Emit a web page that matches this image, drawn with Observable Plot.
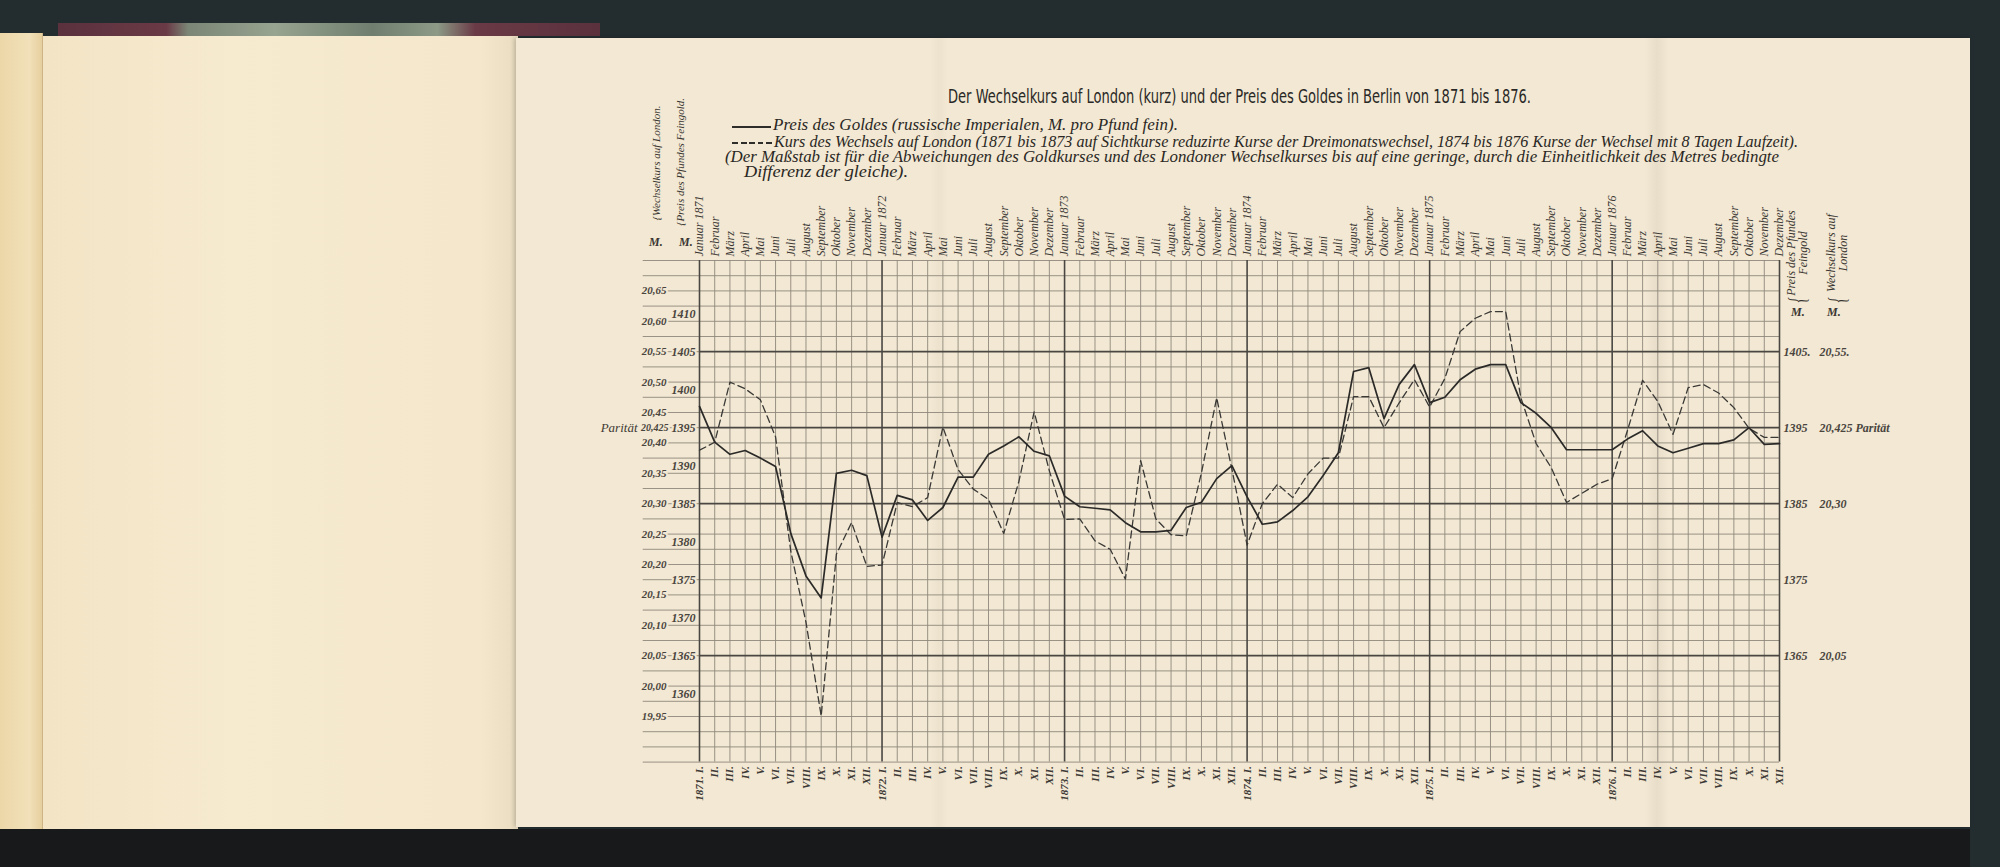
<!DOCTYPE html>
<html>
<head>
<meta charset="utf-8">
<script src="https://cdn.jsdelivr.net/npm/d3@7"></script>
<script src="https://cdn.jsdelivr.net/npm/@observablehq/plot@0.6"></script>
<style>
html,body{margin:0;padding:0;width:2000px;height:867px;overflow:hidden;background:#232c2f;}
#root{position:relative;width:2000px;height:867px;}
.abs{position:absolute;}
.serif{font-family:"Liberation Serif","DejaVu Serif",serif;font-style:italic;color:#3a3631;}
.leg{color:#2a2724;font-size:16px;line-height:18px;}
.rot{position:absolute;transform:translate(-50%,-50%) rotate(-90deg);white-space:nowrap;text-align:center;}
.fit{position:absolute;white-space:nowrap;transform-origin:left center;}
#chart{position:absolute;left:0;top:0;}
</style>
</head>
<body>
<div id="root">
  <!-- book / paper decoration -->
  <div class="abs" style="left:58px;top:23px;width:542px;height:13px;background:linear-gradient(90deg,#5a313d 0%,#6a3a46 20%,#7b8676 24%,#97a48f 40%,#6f7e6f 58%,#8c9a86 70%,#6a3a46 77%,#5a313d 100%);"></div>
  <div class="abs" style="left:0;top:33px;width:42px;height:797px;background:linear-gradient(90deg,#ecd7a8,#f1e0b9 70%,#e6cf9e);border-right:1px solid #cdb487;"></div>
  <div class="abs" style="left:43px;top:36px;width:475px;height:793px;background:linear-gradient(90deg,#f3e4c5 0%,#f6eacf 40%,#f4e7cb 92%,#e9dcc0 100%);"></div>
  <div class="abs" style="left:516px;top:38px;width:1454px;height:789px;background:#f2e8d3;box-shadow:-2px 0 4px rgba(0,0,0,0.18);"></div>
  <div class="abs" style="left:930px;top:38px;width:18px;height:789px;background:linear-gradient(90deg,rgba(0,0,0,0),rgba(90,70,40,0.035),rgba(0,0,0,0));"></div>
  <div class="abs" style="left:1645px;top:38px;width:24px;height:789px;background:linear-gradient(90deg,rgba(0,0,0,0),rgba(90,80,60,0.07),rgba(0,0,0,0));"></div>
  <div class="abs" style="left:0;top:829px;width:1970px;height:38px;background:#17191a;"></div>

  <div id="chart"></div>

  <!-- title and legend -->
  <div class="fit" id="title" data-w="583" style="left:948px;top:85px;font-family:'DejaVu Sans Condensed','DejaVu Sans',sans-serif;font-size:19px;line-height:22px;color:#2a2826;">Der Wechselkurs auf London (kurz) und der Preis des Goldes in Berlin von 1871 bis 1876.</div>

  <div class="abs" style="left:732px;top:126px;width:39px;height:1.6px;background:#2f2d2a;"></div>
  <div class="fit serif leg" data-w="405" style="left:773px;top:116px;">Preis des Goldes (russische Imperialen, M. pro Pfund fein).</div>

  <div class="abs" style="left:732px;top:142px;width:41px;height:1.5px;background:repeating-linear-gradient(90deg,#2f2d2a 0 6px,rgba(0,0,0,0) 6px 8.5px);"></div>
  <div class="fit serif leg" data-w="1024" style="left:774px;top:133px;">Kurs des Wechsels auf London (1871 bis 1873 auf Sichtkurse reduzirte Kurse der Dreimonatswechsel, 1874 bis 1876 Kurse der Wechsel mit 8 Tagen Laufzeit).</div>

  <div class="fit serif leg" data-w="1054" style="left:725px;top:148px;">(Der Maßstab ist für die Abweichungen des Goldkurses und des Londoner Wechselkurses bis auf eine geringe, durch die Einheitlichkeit des Metres bedingte</div>
  <div class="fit serif leg" data-w="164" style="left:744px;top:163px;">Differenz der gleiche).</div>

  <!-- left axis headers -->
  <div class="rot serif" style="left:656px;top:163px;font-size:11px;">{Wechselkurs auf London.</div>
  <div class="rot serif" style="left:680px;top:162px;font-size:11px;">{Preis des Pfundes Feingold.</div>
  <div class="abs serif" style="left:649px;top:235px;font-size:12px;font-weight:bold;">M.</div>
  <div class="abs serif" style="left:679px;top:235px;font-size:12px;font-weight:bold;">M.</div>

  <!-- right axis headers -->
  <div class="rot serif" style="left:1797px;top:253px;font-size:12px;line-height:12px;">Preis des Pfundes<br>Feingold</div>
  <div class="rot serif" style="left:1797px;top:300px;font-size:26px;line-height:26px;transform:translate(-50%,-50%) rotate(-90deg) scaleX(0.5);">{</div>
  <div class="abs serif" style="left:1791px;top:305px;font-size:12px;font-weight:bold;">M.</div>
  <div class="rot serif" style="left:1837px;top:253px;font-size:12px;line-height:12px;">Wechselkurs auf<br>London</div>
  <div class="rot serif" style="left:1837px;top:300px;font-size:26px;line-height:26px;transform:translate(-50%,-50%) rotate(-90deg) scaleX(0.5);">{</div>
  <div class="abs serif" style="left:1827px;top:305px;font-size:12px;font-weight:bold;">M.</div>
</div>

<script>
// ---------- data ----------
const monthNames = ["Januar","Februar","März","April","Mai","Juni","Juli","August","September","Oktober","November","Dezember"];
const romanMonths = ["I.","II.","III.","IV.","V.","VI.","VII.","VIII.","IX.","X.","XI.","XII."];
const years = [1871, 1872, 1873, 1874, 1875, 1876];

// Preis des Goldes (M. pro Pfund fein), monthly Jan 1871 - Dec 1876
const goldPrice = [
  1397.8, 1393.1, 1391.5, 1392.0, 1391.0, 1389.9, 1381.1, 1375.5, 1372.6, 1389.0, 1389.4, 1388.7,
  1380.6, 1386.1, 1385.5, 1382.8, 1384.5, 1388.5, 1388.5, 1391.5, 1392.6, 1393.8, 1391.9, 1391.3,
  1386.0, 1384.6, 1384.4, 1384.2, 1382.5, 1381.3, 1381.3, 1381.5, 1384.5, 1385.2, 1388.3, 1390.0,
  1385.9, 1382.3, 1382.6, 1384.1, 1385.9, 1388.7, 1391.7, 1402.4, 1402.9, 1396.2, 1400.7, 1403.3,
  1398.3, 1399.0, 1401.3, 1402.7, 1403.3, 1403.3, 1398.3, 1396.9, 1395.0, 1392.1, 1392.1, 1392.1,
  1392.1, 1393.5, 1394.6, 1392.6, 1391.7, 1392.3, 1392.9, 1392.9, 1393.4, 1395.0, 1392.8, 1392.9
];
// Kurs des Wechsels auf London (M. pro Pfund Sterling), monthly Jan 1871 - Dec 1876
const exchangeRate = [
  20.388, 20.401, 20.500, 20.489, 20.471, 20.410, 20.222, 20.105, 19.951, 20.217, 20.269, 20.197,
  20.199, 20.302, 20.295, 20.310, 20.426, 20.356, 20.324, 20.307, 20.251, 20.337, 20.451, 20.354,
  20.274, 20.275, 20.239, 20.225, 20.176, 20.371, 20.275, 20.249, 20.247, 20.351, 20.474, 20.357,
  20.232, 20.300, 20.332, 20.310, 20.349, 20.375, 20.375, 20.476, 20.476, 20.425, 20.466, 20.504,
  20.459, 20.506, 20.583, 20.605, 20.616, 20.616, 20.474, 20.399, 20.359, 20.302, 20.317, 20.332,
  20.341, 20.420, 20.503, 20.468, 20.414, 20.491, 20.496, 20.482, 20.458, 20.424, 20.409, 20.409
];

const goldTicks = [1410, 1405, 1400, 1395, 1390, 1385, 1380, 1375, 1370, 1365, 1360];
const rateTicks = [20.65, 20.60, 20.55, 20.50, 20.45, 20.40, 20.35, 20.30, 20.25, 20.20, 20.15, 20.10, 20.05, 20.00, 19.95];
const rateTickLabels = ["20,65","20,60","20,55","20,50","20,45","20,40","20,35","20,30","20,25","20,20","20,15","20,10","20,05","20,00","19,95"];
const rightGoldTicks = [1405, 1395, 1385, 1375, 1365];
const rightGoldLabels = ["1405.", "1395", "1385", "1375", "1365"];
const rightRateTicks = [20.55, 20.425, 20.30, 20.05];
const rightRateLabels = ["20,55.", "20,425 Parität", "20,30", "20,05"];
const parityGold = 1395;
const parityRate = 20.425;
const parityRateLabel = "20,425";
const parityWord = "Parität";

// ---------- derived tables ----------
// One Mark in the exchange scale equals 80 units of the gold scale (0,025 M = 2 M Gold per grid step)
const rateToGoldScale = r => parityGold + (r - parityRate) * 80;
const months = d3.range(goldPrice.length).map(i => ({
  m: i,
  gold: goldPrice[i],
  rate: exchangeRate[i],
  top: i % 12 === 0 ? `${monthNames[0]} ${years[i / 12]}` : monthNames[i % 12],
  bottom: i % 12 === 0 ? `${years[i / 12]}. ${romanMonths[0]}` : romanMonths[i % 12]
}));
const lastM = months.length - 1;
const gridLines = d3.range(1351, 1418, 2);
const thickLines = [1405, 1395, 1385, 1365];

// ---------- style ----------
const paper = "#f2e8d3";
const thin = "#8e887c";
const thick = "#4a4743";
const ink = "#2b2a28";
const serif = "Liberation Serif, DejaVu Serif, serif";
const labelStyle = {fontFamily: serif, fontStyle: "italic", fontWeight: "bold", fill: "#4a453e", stroke: paper, strokeWidth: 4, paintOrder: "stroke"};

const chart = Plot.plot({
  width: 2000,
  height: 867,
  marginLeft: 699,
  marginRight: 221,
  marginTop: 260,
  marginBottom: 105.4,
  x: {domain: [0, lastM], axis: null},
  y: {domain: [1351, 1417], axis: null},
  style: {background: "transparent", overflow: "visible"},
  marks: [
    // grid extension into the left label area
    Plot.ruleY(gridLines, {x1: -3.7, x2: 0, stroke: thin, strokeWidth: 0.9}),
    // fine grid
    Plot.ruleY(gridLines.filter(v => !thickLines.includes(v)), {x1: 0, x2: lastM, stroke: thin, strokeWidth: 0.9}),
    Plot.ruleX(months.filter(d => d.m % 12 !== 0 && d.m !== lastM), {x: "m", y1: 1351, y2: 1417, stroke: thin, strokeWidth: 0.9}),
    // heavy grid
    Plot.ruleY(thickLines, {x1: 0, x2: lastM, stroke: thick, strokeWidth: 1.8}),
    Plot.ruleX(months.filter(d => d.m % 12 === 0 || d.m === lastM), {x: "m", y1: 1351, y2: 1417, stroke: thick, strokeWidth: 1.6}),
    // left labels
    Plot.text(goldTicks, {y: d => d, text: d => String(d), frameAnchor: "left", dx: -4, textAnchor: "end", fontSize: 12, ...labelStyle}),
    Plot.text(rateTicks, {y: d => rateToGoldScale(d), text: (d, i) => rateTickLabels[i], frameAnchor: "left", dx: -33, textAnchor: "end", fontSize: 11, ...labelStyle}),
    Plot.text([parityRate], {y: d => rateToGoldScale(d), text: () => parityRateLabel, frameAnchor: "left", dx: -31, textAnchor: "end", fontSize: 10, ...labelStyle}),
    Plot.text([parityRate], {y: d => rateToGoldScale(d), text: () => parityWord, frameAnchor: "left", dx: -62, textAnchor: "end", fontSize: 13, ...labelStyle, fontWeight: "normal", fill: "#3f3a34"}),
    // right labels
    Plot.text(rightGoldTicks, {y: d => d, text: (d, i) => rightGoldLabels[i], frameAnchor: "right", dx: 4, textAnchor: "start", fontSize: 12, ...labelStyle, stroke: null}),
    Plot.text(rightRateTicks, {y: d => rateToGoldScale(d), text: (d, i) => rightRateLabels[i], frameAnchor: "right", dx: 40, textAnchor: "start", fontSize: 12, ...labelStyle, stroke: null}),
    // month labels
    Plot.text(months, {x: "m", text: "top", frameAnchor: "top", dy: -4, rotate: -90, textAnchor: "start", lineAnchor: "middle", fontSize: 12, fontFamily: serif, fontStyle: "italic", fill: "#3d3935", ariaLabel: "months-top"}),
    Plot.text(months, {x: "m", text: "bottom", frameAnchor: "bottom", dy: 4, rotate: -90, textAnchor: "end", lineAnchor: "middle", fontSize: 11, fontFamily: serif, fontStyle: "italic", fontWeight: "bold", fill: "#3d3935"}),
    // data lines
    Plot.line(months, {x: "m", y: d => rateToGoldScale(d.rate), stroke: "#3a3936", strokeWidth: 1.3, strokeDasharray: "7,4"}),
    Plot.line(months, {x: "m", y: "gold", stroke: ink, strokeWidth: 1.7})
  ]
});

document.getElementById("chart").appendChild(chart);

// underline the year in the January labels
d3.select(chart).selectAll('g[aria-label="months-top"] text').each(function () {
  const t = this.textContent;
  if (t.startsWith(monthNames[0] + " ")) {
    const yr = t.slice(monthNames[0].length + 1);
    this.textContent = monthNames[0] + " ";
    d3.select(this).append("tspan").style("text-decoration", "underline").text(yr);
  }
});

// fit the header lines to their widths
document.querySelectorAll("[data-w]").forEach(el => {
  const w = el.getBoundingClientRect().width;
  el.style.transform = `scaleX(${(+el.dataset.w / w).toFixed(4)})`;
});
</script>
</body>
</html>
